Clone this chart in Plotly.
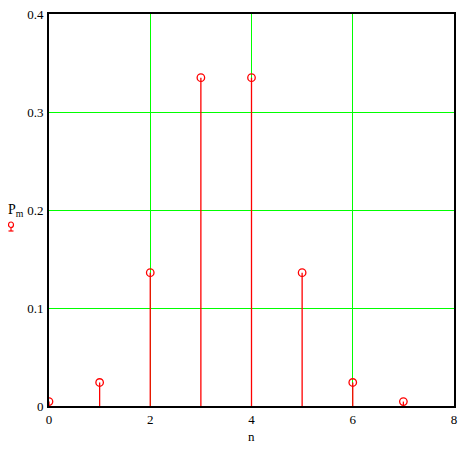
import plotly.graph_objects as go

n = [0, 1, 2, 3, 4, 5, 6, 7]
p_m = [0.0045, 0.024, 0.136, 0.335, 0.335, 0.136, 0.024, 0.0045]
x_ticks = [0, 2, 4, 6, 8]
y_ticks = [0, 0.1, 0.2, 0.3, 0.4]
y_tick_labels = ["0", "0.1", "0.2", "0.3", "0.4"]

stem_x, stem_y = [], []
for xi, yi in zip(n, p_m):
    stem_x += [xi, xi, None]
    stem_y += [0, yi, None]

fig = go.Figure()
fig.add_trace(go.Scatter(x=stem_x, y=stem_y, mode="lines",
                         line=dict(color="#ff0000", width=1.3),
                         hoverinfo="skip", showlegend=False))
fig.add_trace(go.Scatter(x=n, y=p_m, mode="markers",
                         marker=dict(symbol="circle-open", size=7.5,
                                     color="#ff0000", line=dict(width=1.3)),
                         showlegend=False))

font = dict(family="Liberation Serif, 'Times New Roman', serif", size=13, color="black")

# the page body adds an 8px offset; compensate so the plot box lands at 49..454 x 14..406
fig.update_layout(
    width=467, height=444,
    margin=dict(l=41, r=21, t=6, b=46, autoexpand=False),
    paper_bgcolor="white", plot_bgcolor="white",
    font=font,
    xaxis=dict(range=[0, 8], tickvals=x_ticks, showgrid=True, automargin=False,
               gridcolor="#00ff00", gridwidth=1.3, zeroline=False,
               showline=True, linecolor="black", linewidth=2, mirror=True,
               ticks="", ticklen=0, tickfont=font, ticklabelstandoff=0,
               ticklabeloverflow="allow"),
    yaxis=dict(range=[0, 0.4], tickvals=y_ticks, ticktext=y_tick_labels,
               showgrid=True, automargin=False,
               gridcolor="#00ff00", gridwidth=1.3, zeroline=False,
               showline=True, linecolor="black", linewidth=2, mirror=True,
               ticks="", ticklen=0, tickfont=font, ticklabelstandoff=1,
               ticklabeloverflow="allow"),
    annotations=[
        dict(text="n", x=0.5, y=-0.079, xref="paper", yref="paper",
             showarrow=False, font=font, xanchor="center", yanchor="middle"),
        dict(text="P<sub>m</sub>", x=-0.081, y=0.499, xref="paper", yref="paper",
             showarrow=False, font=dict(family=font["family"], size=14, color="black"),
             xanchor="center", yanchor="middle"),
    ],
)

# small red legend glyph under the axis title (circle with stem)
def px_to_paper_x(px):
    return (px - 49) / (454 - 49)

def px_to_paper_y(py):
    return (406 - py) / (406 - 14)

fig.add_shape(type="circle", xref="paper", yref="paper",
              x0=px_to_paper_x(8.5), x1=px_to_paper_x(13.5),
              y0=px_to_paper_y(227.5), y1=px_to_paper_y(222),
              line=dict(color="#ff0000", width=1.2))
fig.add_shape(type="line", xref="paper", yref="paper",
              x0=px_to_paper_x(11), x1=px_to_paper_x(11),
              y0=px_to_paper_y(227.5), y1=px_to_paper_y(231),
              line=dict(color="#ff0000", width=1.2))
fig.add_shape(type="line", xref="paper", yref="paper",
              x0=px_to_paper_x(8.5), x1=px_to_paper_x(13.5),
              y0=px_to_paper_y(231), y1=px_to_paper_y(231),
              line=dict(color="#ff0000", width=1.2))

fig.write_html("out.html")
